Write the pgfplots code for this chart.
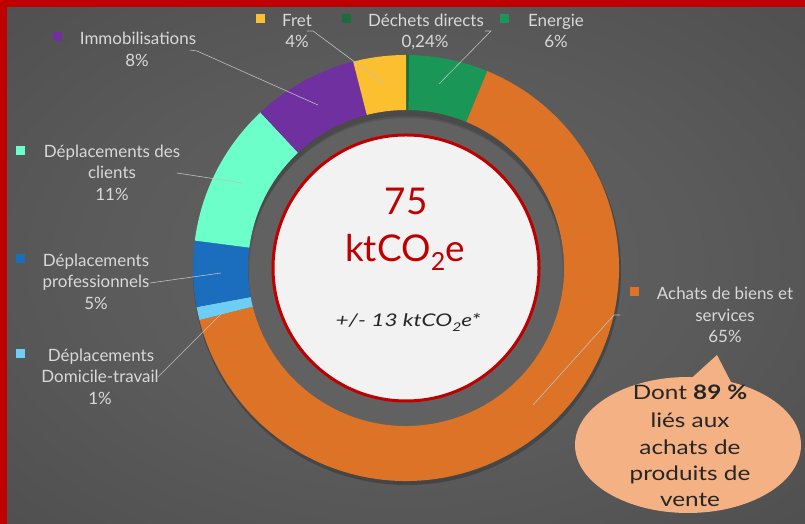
\documentclass[border=0pt]{standalone}
\usepackage{pgfplots}
\pgfplotsset{compat=1.18}
\usepackage{pgfplotstable}
\usepackage{graphicx}
\usepackage{fontspec}
\setmainfont{Lato}

\definecolor{c0}{HTML}{1E6B3C}
\definecolor{c1}{HTML}{1A9657}
\definecolor{c2}{HTML}{DD7326}
\definecolor{c3}{HTML}{6DCDF5}
\definecolor{c4}{HTML}{1B6EBD}
\definecolor{c5}{HTML}{6CFFC9}
\definecolor{c6}{HTML}{7030A0}
\definecolor{c7}{HTML}{FBBF30}
\definecolor{bgA}{HTML}{636363}
\definecolor{bgB}{HTML}{5B5B5B}
\definecolor{bgC}{HTML}{464646}
\definecolor{bgD}{HTML}{393939}
\definecolor{hole}{HTML}{616161}
\definecolor{bred}{HTML}{C00000}
\definecolor{lblgray}{HTML}{D9D9D9}
\definecolor{leader}{HTML}{BFBFBF}
\definecolor{disk}{HTML}{F2F2F2}
\definecolor{bubble}{HTML}{F4B183}
\definecolor{dark}{HTML}{262626}

\pgfdeclareradialshading{bgshade}{\pgfpointorigin}{color(0bp)=(bgA); color(18bp)=(bgB); color(50bp)=(bgC); color(72bp)=(bgD)}

\pgfplotstableread{
label value
Dechets 0.24
Energie 6
Achats 65
Domicile 1
Pro 5
Clients 11
Immo 8
Fret 4
}\donut

\newcommand\lbl[3]{\node[anchor=base,text=lblgray,inner sep=0pt,font=\fontsize{17}{20}\selectfont] at (axis cs:#1,#2) {#3};}
\newcommand\mk[3]{\fill[#3] (axis cs:#1-4.5,#2-4.5) rectangle (axis cs:#1+4.5,#2+4.5);}
\newcommand\btx[3]{\node[anchor=base,text=dark,inner sep=0pt,font=\fontsize{20}{24}\selectfont] at (axis cs:#1,#2) {\scalebox{1.22}[1]{#3}};}

\begin{document}
\begin{tikzpicture}
\begin{axis}[x=1bp,y=1bp,xmin=0,xmax=805,ymin=0,ymax=524,hide axis,clip=false]
% background
\shade[shading=bgshade] (axis cs:0,0) rectangle (axis cs:805,524);
\fill[bred] (axis cs:0,517) rectangle (axis cs:805,524);
\fill[bred] (axis cs:0,0) rectangle (axis cs:7,524);
% ring shadow
\fill[black,opacity=0.22,even odd rule] (axis cs:407,253) circle[radius=214bp] circle[radius=157bp];
% hole with inner shadow
\fill[hole] (axis cs:406,256) circle[radius=158bp];
\begin{scope}
\clip (axis cs:406,256) circle[radius=158bp];
\fill[black,opacity=0.12,even odd rule] (axis cs:406,256) circle[radius=175bp] (axis cs:406,251) circle[radius=157bp];
\fill[black,opacity=0.12,even odd rule] (axis cs:406,256) circle[radius=175bp] (axis cs:406,246) circle[radius=160bp];
\end{scope}
% donut
\pgfmathsetmacro\acc{90}
\pgfplotsforeachungrouped \i in {0,...,7}{%
  \pgfplotstablegetelem{\i}{value}\of\donut
  \pgfmathsetmacro\aE{\acc-\pgfplotsretval/100.24*360}%
  \edef\temp{\noexpand\fill[c\i] (axis cs:406,256) ++(\acc:213bp) arc[start angle=\acc,end angle=\aE,radius=213bp] -- ++(\aE:-55bp) arc[start angle=\aE,end angle=\acc,radius=158bp] -- cycle;}%
  \temp
  \let\acc\aE
}
% centre disk
\fill[disk,draw=bred,line width=3bp] (axis cs:406,256) circle[radius=133bp];
\node[anchor=base,text=bred,inner sep=0pt,font=\fontsize{37}{40}\selectfont] at (axis cs:406,309) {75};
\node[anchor=base,text=bred,inner sep=0pt,font=\fontsize{37}{40}\selectfont] at (axis cs:405,262) {ktCO\raisebox{-0.22em}{\fontsize{25}{25}\selectfont 2}e};
\node[anchor=base,text=dark,inner sep=0pt,font=\fontsize{17.5}{20}\selectfont\itshape] at (axis cs:408,197) {\scalebox{1.3}[1]{+/- 13 ktCO\raisebox{-0.25em}{\fontsize{12}{12}\selectfont 2}e*}};
% leader lines
\draw[leader,line width=0.6bp] (axis cs:190,474) -- (axis cs:197,473) -- (axis cs:318,419);
\draw[leader,line width=0.6bp] (axis cs:307,493) -- (axis cs:313,493) -- (axis cs:383,441);
\draw[leader,line width=0.6bp] (axis cs:485,493) -- (axis cs:491,493) -- (axis cs:439,440);
\draw[leader,line width=0.6bp] (axis cs:177,351) -- (axis cs:242,341);
\draw[leader,line width=0.6bp] (axis cs:150,241) -- (axis cs:221,251);
\draw[leader,line width=0.6bp] (axis cs:158,147) -- (axis cs:225,214);
\draw[leader,line width=0.6bp] (axis cs:620,209) -- (axis cs:614,209) -- (axis cs:533,119);
% labels
\mk{57}{487}{c6}
\lbl{138}{479}{Immobilisations}
\lbl{137}{457}{8\%}
\mk{260}{505}{c7}
\lbl{297}{497}{Fret}
\lbl{297}{476}{4\%}
\mk{346}{505}{c0}
\lbl{426}{497}{Déchets directs}
\lbl{425}{476}{0,24\%}
\mk{504}{505}{c1}
\lbl{556}{497}{Energie}
\lbl{556}{476}{6\%}
\mk{20}{373}{c5}
\lbl{112}{366}{Déplacements des}
\lbl{112}{345}{clients}
\lbl{112}{323}{11\%}
\mk{20}{265}{c4}
\lbl{96}{257}{Déplacements}
\lbl{96}{236}{professionnels}
\lbl{96}{214}{5\%}
\mk{20}{170}{c3}
\lbl{101}{162}{Déplacements}
\lbl{100}{141}{Domicile-travail}
\lbl{100}{119}{1\%}
\mk{634}{232}{c2}
\lbl{725}{224}{Achats de biens et}
\lbl{725}{202}{services}
\lbl{725}{181}{65\%}
% callout
\fill[bubble] (axis cs:685,140) -- (axis cs:717,169) -- (axis cs:733,138) -- cycle;
\fill[bubble] (axis cs:688,79) ellipse[x radius=113bp,y radius=68bp];
\btx{690}{124}{Dont \textbf{89 \%}}
\btx{690}{96}{liés aux}
\btx{690}{69}{achats de}
\btx{690}{43}{produits de}
\btx{690}{17}{vente}
\end{axis}
\end{tikzpicture}
\end{document}
